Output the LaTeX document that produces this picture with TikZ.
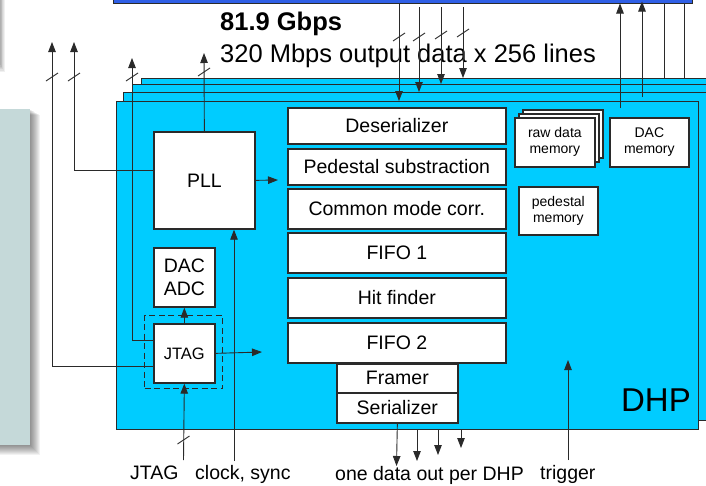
\documentclass[tikz,border=0pt]{standalone}
\usepackage{fontspec}
\setmainfont{Liberation Sans}
\usetikzlibrary{arrows.meta}
\definecolor{dhpcyan}{HTML}{00CCFF}
\definecolor{busblue}{HTML}{2F5FE6}
\definecolor{panelgrey}{HTML}{C5D9D9}
\definecolor{edgec}{HTML}{2A2A2A}
\begin{document}
\begin{tikzpicture}[x=1pt,y=-1pt,
  board/.style={draw=edgec, line width=1.2pt, fill=dhpcyan, anchor=north west, inner sep=0pt},
  wbox/.style={draw=edgec, line width=1.7pt, fill=white, anchor=north west, inner sep=0pt, align=center, text=black, font=\fontsize{19.5}{23}\selectfont},
  sbox/.style={wbox, font=\fontsize{14}{16}\selectfont},
  sz/.style 2 args={minimum width=#1pt, minimum height=#2pt},
  conn/.style={draw=edgec, line width=0.9pt},
  arr/.style={conn, -{Triangle[length=10pt,width=7.5pt]}},
  lbl/.style={anchor=base west, inner sep=0pt, font=\fontsize{19.5}{23}\selectfont},
  big/.style={anchor=base west, inner sep=0pt, font=\fontsize{25.5}{30}\selectfont}
]
\useasboundingbox (0,0) rectangle (706,485);
\clip (0,0) rectangle (706,485);
\fill[white] (0,0) rectangle (706,485);

% shadows and grey panel at the left
\foreach \i in {1,...,6} \fill[black,opacity=0.06] (-10,-10) rectangle ({\i*0.8},{64+\i*1.3});
\foreach \i in {1,...,10} \fill[black,opacity=0.05] (0,{109+\i*0.6}) rectangle ({30+\i},{445+\i});
\node[draw=none, fill=panelgrey, anchor=north west, inner sep=0pt, minimum width=30pt, minimum height=336pt] (panel) at (0,109) {};

% top bus bar
\node[draw=edgec, line width=1pt, fill=busblue, anchor=south west, inner sep=0pt, minimum width=579pt, minimum height=12pt] (bus) at (113,3.5) {};

% stacked DHP boards
\node[board, sz={590}{326}] (b4) at (141,78) {};
\node[board, sz={590}{328}] (b3) at (132,84) {};
\node[board, sz={591}{328}] (b2) at (123,92) {};
\node[board, sz={582}{328}] (dhp) at (116,101) {};
\node[anchor=center, inner sep=0pt, font=\fontsize{33}{36}\selectfont] (dhplbl) at (656,400) {DHP};

% pipeline boxes
\node[wbox, sz={218}{36}] (deser) at (287,107) {Deserializer};
\node[wbox, sz={218}{36}] (ped) at (287,148) {Pedestal substraction};
\node[wbox, sz={218}{40}] (cmc) at (287,188) {Common mode corr.};
\node[wbox, sz={218}{40}] (fifo1) at (287,232) {FIFO 1};
\node[wbox, sz={218}{40}] (hit) at (287,277) {Hit finder};
\node[wbox, sz={218}{40}] (fifo2) at (287,322) {FIFO 2};
\node[wbox, sz={121}{29}] (framer) at (336,363) {Framer};
\node[wbox, sz={121}{30}] (ser) at (336,392) {Serializer};

% memories
\node[sbox, sz={80}{48}] (raw3) at (522,109) {};
\node[sbox, sz={80}{48}] (raw2) at (518,113) {};
\node[sbox, sz={80}{49}] (raw) at (514,117) {raw data\\memory};
\node[sbox, sz={79}{49}] (dacmem) at (609,117) {DAC\\memory};
\node[sbox, sz={79}{48}] (pedmem) at (518,186) {pedestal\\memory};

% left blocks
\node[wbox, sz={101}{97}] (pll) at (153,131) {PLL};
\node[wbox, sz={61}{59}] (dacadc) at (153,247) {DAC\\ADC};
\node[draw=edgec, line width=1.3pt, dash pattern=on 6pt off 3.5pt, anchor=north west, inner sep=0pt, sz={78}{73}] (jtagzone) at (144,315) {};
\node[wbox, sz={61}{59}, font=\fontsize{16.5}{20}\selectfont] (jtag) at (153,323) {JTAG};

% texts
\node[big, font=\bfseries\fontsize{25.5}{30}\selectfont] (gbps) at (220,30) {81.9 Gbps};
\node[big] (lines) at (220,62) {320 Mbps output data x 256 lines};
\node[lbl] (jtaglbl) at (130,479) {JTAG};
\node[lbl] (clklbl) at (195,479) {clock, sync};
\node[lbl] (trglbl) at (540,479) {trigger};
\node[lbl] (outlbl) at (335,480) {one data out per DHP};

% coordinates for free ends
\coordinate (t1) at (399,3);
\coordinate (t2) at (419,7);
\coordinate (t3) at (441,7);
\coordinate (t4) at (463,7);
\coordinate (u1) at (620,108);
\coordinate (u2) at (642,97);
\coordinate (u3) at (664,78);
\coordinate (u4) at (684,78);
\coordinate (la) at (52,42);
\coordinate (lb) at (74,42);
\coordinate (lc) at (132,58);
\coordinate (pllup) at (204,53);
\coordinate (pllout) at (278,180);
\coordinate (jtagout) at (262,352);
\coordinate (jtagin) at (183.5,460);
\coordinate (clk) at (234,461);
\coordinate (trg) at (568,460);
\coordinate (trgtip) at (568,360);
\coordinate (o1) at (396.5,466);
\coordinate (o2) at (417,461);
\coordinate (o3) at (438,455);
\coordinate (o4) at (461,448);

% input data lines from the bus
\draw[arr] (t1) -- (t1 |- dhp.north);
\draw[arr] (t2) -- (t2 |- b2.north);
\draw[arr] (t3) -- (t3 |- b3.north);
\draw[arr] (t4) -- (t4 |- b4.north);
\foreach \x/\y in {399/37, 419/37, 441/35, 463/33}
  \draw[conn] (\x,\y) ++(-6,4) -- ++(12,-8);

% lines up to the bus
\draw[arr] (u1) -- (u1 |- bus.south);
\draw[arr] (u2) -- ([yshift=2pt]u2 |- bus.south);
\draw[conn] (u3) -- (u3 |- bus.south);
\draw[conn] (u4) -- (u4 |- bus.south);

% left side signals
\draw[arr] (jtag.west |- 0,366) -| (la);
\draw[arr] (pll.west |- 0,170) -| (lb);
\draw[arr] (jtag.west |- 0,340) -| (lc);
\draw[arr] (pll.north) -- (pllup);
\foreach \x/\y in {52/77, 74/77, 132/77, 204/72}
  \draw[conn] (\x,\y) ++(-6,4) -- ++(12,-8);

\draw[arr] (pll.east) -- (pllout);
\draw[arr] (jtag.east) -- (jtagout);
\draw[arr] (jtag.north) -- (dacadc.south);
\draw[arr] (jtagin) -- (jtag.south);
\draw[conn] (183.5,440) ++(-6,4) -- ++(12,-8);
\draw[arr] (clk) -- (clk |- pll.south);
\draw[arr] (trg) -- (trgtip);

% outputs
\draw[arr] (ser.south) -- (o1);
\draw[arr] (o2 |- dhp.south) -- (o2);
\draw[arr] (o3 |- dhp.south) -- (o3);
\draw[arr] (o4 |- dhp.south) -- (o4);
\end{tikzpicture}
\end{document}
